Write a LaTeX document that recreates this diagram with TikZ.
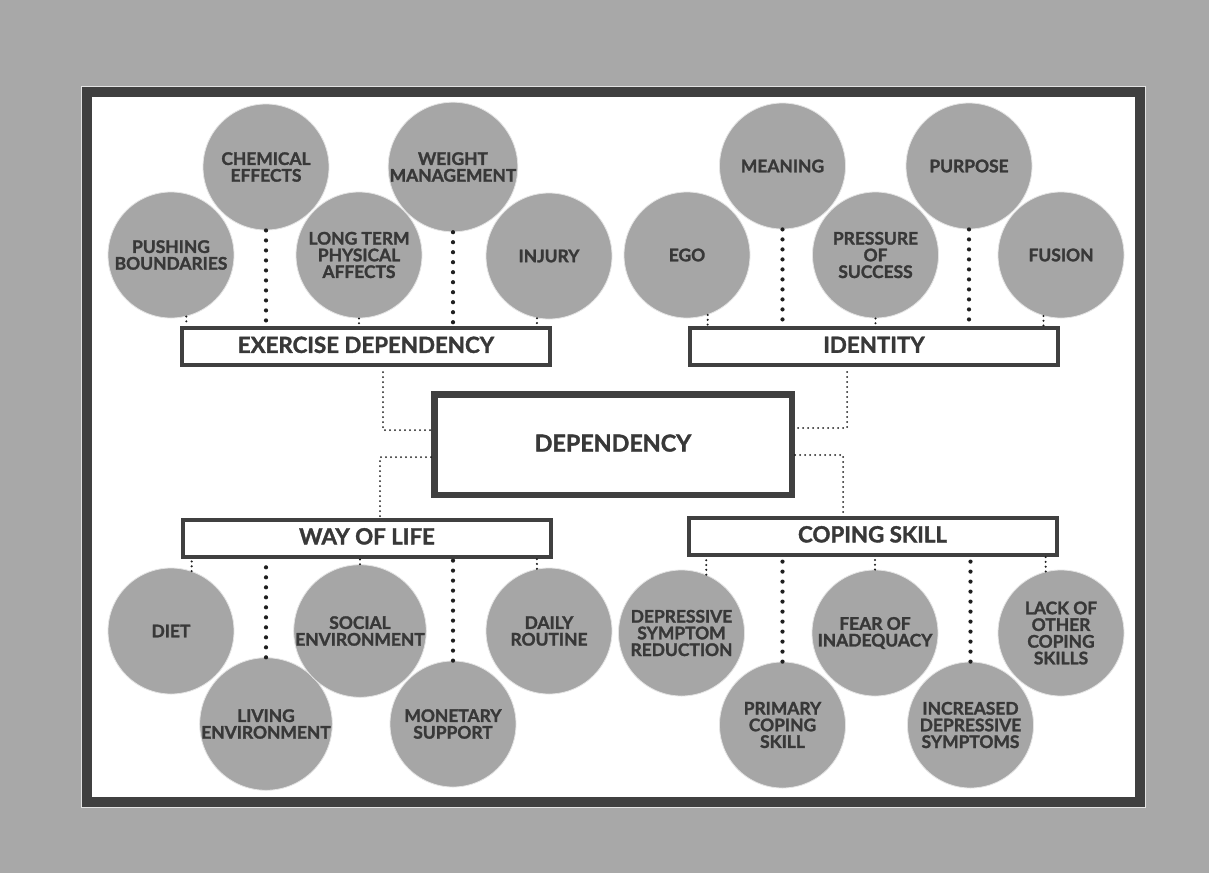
\documentclass[tikz,border=0pt]{standalone}
\usepackage{fontspec}
\setmainfont{Lato}[BoldFeatures={FakeBold=1.6}]

\definecolor{backgray}{HTML}{A8A8A8}
\definecolor{framegray}{HTML}{404040}
\definecolor{bubblegray}{HTML}{A6A6A6}
\definecolor{inkgray}{HTML}{383838}

\tikzset{
  bigdots/.style={draw=black!88, line width=4.2pt, line cap=round, dash pattern=on 0pt off 10pt},
  smalldots/.style={draw=black!88, line width=2.3pt, line cap=round, dash pattern=on 0pt off 4.8pt},
  thindots/.style={draw=black!90, line width=2pt, line cap=round, dash pattern=on 0pt off 5pt},
}

\begin{document}
\begin{tikzpicture}[x=1pt,y=-1pt]

      \fill[backgray] (0,0) rectangle (1209,873);
      \draw[white!78!gray, line width=1pt] (81.5,86.5) rectangle (1145.5,807.5);
      \draw[framegray, fill=white, line width=10pt] (87,92) rectangle (1140,802);

      \begin{scope}[every node/.style={circle, fill=bubblegray, draw=white!70!bubblegray, line width=.8pt,
          minimum size=126pt, inner sep=0pt, align=center, text=inkgray,
          font=\bfseries\fontsize{17.4}{16.7}\selectfont}]
        % exercise dependency
        \node (push)     at (171,255)   {PUSHING\\BOUNDARIES};
        \node (chem)     at (266,167)   {CHEMICAL\\EFFECTS};
        \node (long)     at (359,255)   {LONG TERM\\PHYSICAL\\AFFECTS};
        \node (weight)   at (453,167)   {WEIGHT\\MANAGEMENT};
        \node (injury)   at (549,256)   {INJURY};
        % identity
        \node (ego)      at (687,255)   {EGO};
        \node (meaning)  at (782.5,166) {MEANING};
        \node (pressure) at (875.5,255) {PRESSURE\\OF\\SUCCESS};
        \node (purpose)  at (969,166)   {PURPOSE};
        \node (fusion)   at (1061,255)  {FUSION};
        % way of life
        \node (diet)     at (171,631)   {DIET};
        \node (living)   at (266,724)   {LIVING\\ENVIRONMENT};
        \node (social)   at (360,631)   {SOCIAL\\ENVIRONMENT};
        \node (monetary) at (453,724)   {MONETARY\\SUPPORT};
        \node (daily)    at (549,631)   {DAILY\\ROUTINE};
        % coping skill
        \node (depsym)   at (681.5,633) {DEPRESSIVE\\SYMPTOM\\REDUCTION};
        \node (primary)  at (782.5,725) {PRIMARY\\COPING\\SKILL};
        \node (fear)     at (875,633)   {FEAR OF\\INADEQUACY};
        \node (increase) at (970.5,725) {INCREASED\\DEPRESSIVE\\SYMPTOMS};
        \node (lack)     at (1061,633)  {LACK OF\\OTHER\\COPING\\SKILLS};
      \end{scope}

      \begin{scope}[every node/.style={draw=framegray, fill=white, line width=4pt, text=inkgray,
          minimum width=368pt, minimum height=37pt, inner sep=0pt, text depth=3.5pt,
          font=\bfseries\fontsize{22.3}{24}\selectfont}]
        \node (exd) at (366,346.5) {EXERCISE DEPENDENCY};
        \node (idn) at (874,346.5) {IDENTITY};
        \node (wol) at (367,538)   {WAY OF LIFE};
        \node (cop) at (872.5,536) {COPING SKILL};
      \end{scope}

      \node[draw=framegray, fill=white, line width=6.5pt, text=inkgray,
        minimum width=357.5pt, minimum height=100.5pt, inner sep=0pt, text depth=3pt,
        font=\bfseries\fontsize{23.3}{26}\selectfont] (dep) at (613,444.5) {DEPENDENCY};

      \begin{scope}[every edge/.style={bigdots}]
        \path (chem.south)     edge (chem.south |- exd.north);
        \path (weight.south)   edge (weight.south |- exd.north);
        \path (meaning.south)  edge (meaning.south |- idn.north);
        \path (purpose.south)  edge (purpose.south |- idn.north);
        \path (living.north)   edge (living.north |- wol.south);
        \path (monetary.north) edge (monetary.north |- wol.south);
        \path (primary.north)  edge (primary.north |- cop.south);
        \path (increase.north) edge (increase.north |- cop.south);
      \end{scope}

      \begin{scope}[every edge/.style={smalldots}]
        \path (push.-76)       edge (push.-76 |- exd.north);
        \path (long.south)     edge (long.south |- exd.north);
        \path (injury.-101)    edge (injury.-101 |- exd.north);
        \path (ego.-71)        edge (ego.-71 |- idn.north);
        \path (pressure.south) edge (pressure.south |- idn.north);
        \path (fusion.-106)    edge (fusion.-106 |- idn.north);
        \path (diet.71)        edge (diet.71 |- wol.south);
        \path (social.north)   edge (social.north |- wol.south);
        \path (daily.101)      edge (daily.101 |- wol.south);
        \path (depsym.67)      edge (depsym.67 |- cop.south);
        \path (fear.north)     edge (fear.north |- cop.south);
        \path (lack.104)       edge (lack.104 |- cop.south);
      \end{scope}

      \draw[thindots] ([xshift=17pt,yshift=-5pt]exd.south) |- ([yshift=14.5pt]dep.west);
      \draw[thindots] ([yshift=-12.5pt]dep.west) -| ([xshift=13pt]wol.north);
      \draw[thindots] ([xshift=-27pt,yshift=-5pt]idn.south) |- ([yshift=16.5pt]dep.east);
      \draw[thindots] ([yshift=-10.5pt]dep.east) -| ([xshift=-29.5pt]cop.north);

\end{tikzpicture}
\end{document}
